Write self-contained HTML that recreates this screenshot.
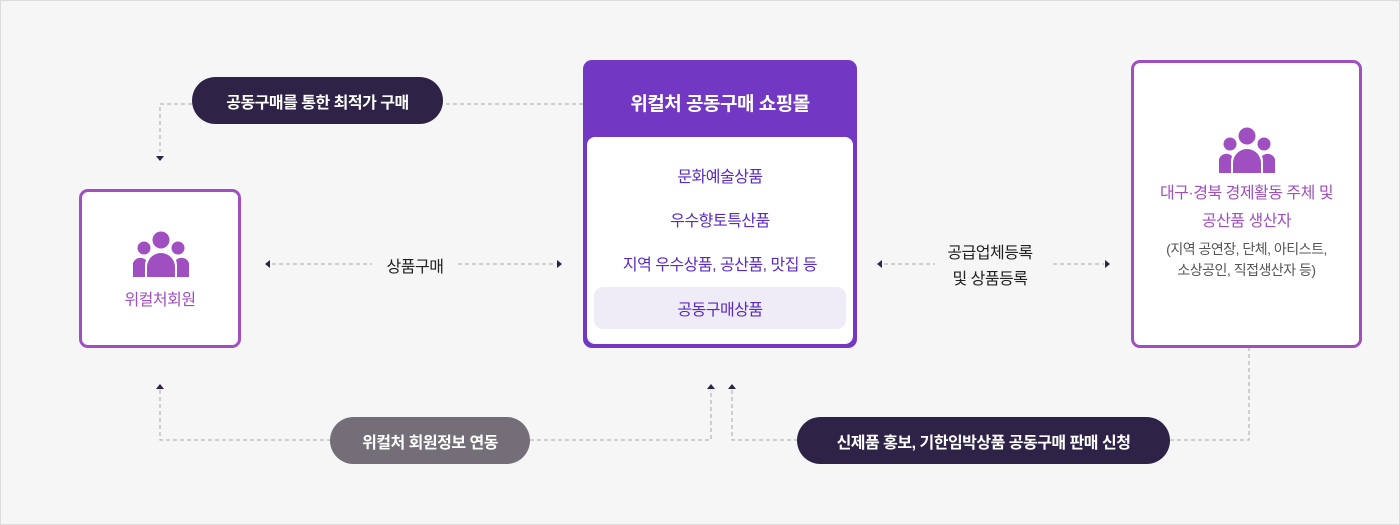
<!DOCTYPE html>
<html><head><meta charset="utf-8"><style>
body{margin:0;width:1400px;height:525px;overflow:hidden;background:#fff;font-family:"Liberation Sans","Noto Sans CJK KR",sans-serif}
#wrap{position:absolute;left:0;top:0;width:1400px;height:525px;box-shadow:inset 0 0 0 1px #dcdcdc;background:#f6f6f6}
.a{position:absolute}
.box{position:absolute;background:#fff;border:3px solid #a04fc0;border-radius:9px;box-sizing:border-box}
.pill{position:absolute;border-radius:24px;color:#fff;font-size:16px;font-weight:bold;display:flex;align-items:center;justify-content:center;letter-spacing:-0.5px}
.t{position:absolute;text-align:center;letter-spacing:-0.5px}
</style></head><body><div id="wrap">
<svg class="a" style="left:0;top:0" width="1400" height="525">
<g stroke="#a8a8a8" stroke-width="1" stroke-dasharray="4,3" fill="none">
<path d="M583 104H443M192 104H160V152"/>
<path d="M272 264H372M458 264H556"/>
<path d="M884 264H935M1053 264H1104"/>
<path d="M160 390V440H330M530 440H711V390"/>
<path d="M732 390V440H797M1170 440H1249V348"/>
</g>
<g fill="#2d2445">
<path d="M156 156h8l-4 5z"/>
<path d="M265 264l5-4v8z"/><path d="M562 264l-5-4v8z"/>
<path d="M877 264l5-4v8z"/><path d="M1110 264l-5-4v8z"/>
<path d="M156 389h8l-4-5z"/><path d="M707 389h8l-4-5z"/><path d="M728 389h8l-4-5z"/>
</g>
</svg>
<div class="pill" style="left:192px;top:77px;width:251px;height:47px;background:#2e2347">공동구매를 통한 최적가 구매</div>
<div class="pill" style="left:330px;top:417px;width:200px;height:47px;background:#736e77">위컬처 회원정보 연동</div>
<div class="pill" style="left:797px;top:417px;width:373px;height:47px;background:#2e2347">신제품 홍보, 기한임박상품 공동구매 판매 신청</div>
<div class="t" style="left:372px;top:253px;width:86px;font-size:16px;color:#222">상품구매</div>
<div class="t" style="left:920px;top:241px;width:140px;font-size:16px;color:#222;line-height:26px">공급업체등록<br>및 상품등록</div>

<div class="box" style="left:79px;top:189px;width:162px;height:159px">
<svg class="a" style="left:51px;top:39px" width="56" height="46" viewBox="0 0 56 46">
<g fill="#a04fc0"><circle cx="28" cy="9" r="8.5"/><circle cx="11" cy="17" r="6.5"/><circle cx="45" cy="17" r="6.5"/>
<path d="M14 46V36a14 14 0 0 1 28 0v10z"/><path d="M0 46V32a8 8 0 0 1 13-3 18 18 0 0 0-1 7v10z"/><path d="M56 46V32a8 8 0 0 0-13-3 18 18 0 0 1 1 7v10z"/></g></svg>
<div class="t" style="left:0;top:94px;width:156px;font-size:16px;color:#a04fc0">위컬처회원</div>
</div>

<div class="a" style="left:583px;top:60px;width:274px;height:288px;background:#7238c4;border-radius:9px">
<div class="t" style="left:0;top:29px;width:274px;font-size:19px;font-weight:bold;color:#fff">위컬처 공동구매 쇼핑몰</div>
<div class="a" style="left:4px;top:77px;width:266px;height:207px;background:#fff;border-radius:8px">
<div class="t" style="left:0;top:26px;width:266px;font-size:16px;color:#5a2bc0">문화예술상품</div>
<div class="t" style="left:0;top:70px;width:266px;font-size:16px;color:#5a2bc0">우수향토특산품</div>
<div class="t" style="left:0;top:114px;width:266px;font-size:16px;color:#5a2bc0">지역 우수상품, 공산품, 맛집 등</div>
<div class="a" style="left:7px;top:150px;width:252px;height:42px;background:#efebf7;border-radius:9px"></div>
<div class="t" style="left:0;top:159px;width:266px;font-size:16px;color:#5a2bc0">공동구매상품</div>
</div></div>

<div class="box" style="left:1131px;top:60px;width:231px;height:288px">
<svg class="a" style="left:85px;top:64px" width="56" height="46" viewBox="0 0 56 46">
<g fill="#a04fc0"><circle cx="28" cy="9" r="8.5"/><circle cx="11" cy="17" r="6.5"/><circle cx="45" cy="17" r="6.5"/>
<path d="M14 46V36a14 14 0 0 1 28 0v10z"/><path d="M0 46V32a8 8 0 0 1 13-3 18 18 0 0 0-1 7v10z"/><path d="M56 46V32a8 8 0 0 0-13-3 18 18 0 0 1 1 7v10z"/></g></svg>
<div class="t" style="left:0;top:117px;width:225px;font-size:16px;color:#a04fc0;line-height:28px">대구·경북 경제활동 주체 및<br>공산품 생산자</div>
<div class="t" style="left:0;top:176px;width:225px;font-size:14px;color:#555;line-height:21px">(지역 공연장, 단체, 아티스트,<br>소상공인, 직접생산자 등)</div>
</div>
</div></body></html>
